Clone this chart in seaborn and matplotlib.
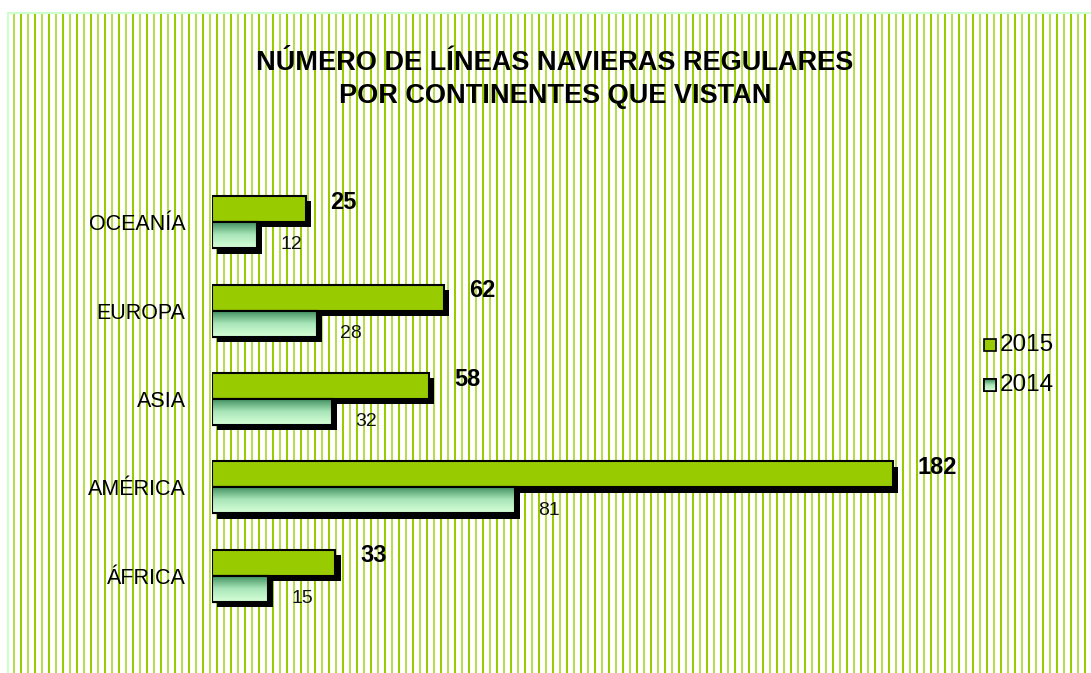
import numpy as np
import pandas as pd
import matplotlib
matplotlib.use('Agg')
import matplotlib.pyplot as plt
import matplotlib.patheffects as pe
from matplotlib.patches import Rectangle
import seaborn as sns

# data
continentes = ['OCEANÍA', 'EUROPA', 'ASIA', 'AMÉRICA', 'ÁFRICA']
lineas_2015 = [25, 62, 58, 182, 33]
lineas_2014 = [12, 28, 32, 81, 15]
anios = ['2015', '2014']

dat = pd.DataFrame({'continente': continentes * 2,
                    'lineas': lineas_2015 + lineas_2014,
                    'anio': ['2015'] * 5 + ['2014'] * 5})

sns.set_theme(style='white')
plt.rcParams['font.family'] = ['Liberation Sans', 'DejaVu Sans']
plt.rcParams['text.color'] = 'black'
plt.rcParams['ytick.color'] = 'black'

W, H = 1091, 673
fig = plt.figure(figsize=(W / 100, H / 100), dpi=100)

# striped background, pixel coords
bg = fig.add_axes([0, 0, 1, 1], zorder=-10)
bg.set_xlim(0, W); bg.set_ylim(H, 0); bg.axis('off')
xs = np.arange(14, W, 7)
for k, xx in enumerate(xs):
    col = '#99CC00' if k % 2 else '#B8DC50'
    bg.vlines(xx, 12, H, color=col, lw=1.45)
bg.hlines(12.5, 7, W, color='#CCFFCC', lw=1.5)
bg.vlines(7.5, 12, H, color='#CCFFCC', lw=1.5)

# plot area: bars start at x=212 px, ~3.74 px per unit
x0, x1 = 212, 1000
y_top, y_bot = 178, 620
ax = fig.add_axes([x0 / W, 1 - y_bot / H, (x1 - x0) / W, (y_bot - y_top) / H])
ax.patch.set_alpha(0)

shadow = [pe.SimplePatchShadow(offset=(3.8, -3.8), shadow_rgbFace='black', alpha=1), pe.Normal()]
sns.barplot(data=dat, y='continente', x='lineas', hue='anio', order=continentes,
            hue_order=anios, palette={'2015': '#99CC00', '2014': '#8FD0A0'}, saturation=1,
            width=0.59, edgecolor='black', linewidth=1.5, ax=ax, legend=False)

ax.set_xlim(0, (x1 - x0) / 3.74)
ax.set_ylim(4.5, -0.5)
ylim = ax.get_ylim(); xlim = ax.get_xlim()

grad = np.linspace(0, 1, 64).reshape(-1, 1)
cmap_g = matplotlib.colors.LinearSegmentedColormap.from_list('g', ['#3A8A5A', '#A8E6B8', '#D8FFD8'])
n = len(continentes)
for i, p in enumerate(ax.patches):
    p.set_path_effects(shadow)
    if i >= n:
        bx, by, bw, bh = p.get_x(), p.get_y(), p.get_width(), p.get_height()
        im = ax.imshow(grad, cmap=cmap_g, aspect='auto', origin='upper',
                       extent=[bx, bx + bw, by + bh, by], zorder=p.get_zorder() + 0.1)
        im.set_clip_path(p)
        ax.add_patch(Rectangle((bx, by), bw, bh, fill=False, edgecolor='black',
                               lw=1.5, zorder=p.get_zorder() + 0.2))
ax.set_xlim(xlim); ax.set_ylim(ylim)

# value labels
for i in range(n):
    p15 = ax.patches[i]; p14 = ax.patches[n + i]
    ax.annotate(str(lineas_2015[i]), (p15.get_width(), p15.get_y() + p15.get_height() / 2),
                xytext=(18, 5), textcoords='offset points', ha='left', va='center',
                fontsize=17, fontweight='bold', color='black')
    ax.annotate(str(lineas_2014[i]), (p14.get_width(), p14.get_y() + p14.get_height() / 2),
                xytext=(17, -7), textcoords='offset points', ha='left', va='center',
                fontsize=14, color='#111111')

ax.set_xlabel(''); ax.set_ylabel('')
ax.set_xticks([])
ax.tick_params(axis='y', length=0, pad=19, labelsize=15.5, labelcolor='black')
for s in ax.spines.values():
    s.set_visible(False)

fig.text(555 / W, 1 - 63 / H, 'NÚMERO DE LÍNEAS NAVIERAS REGULARES', ha='center', va='center',
         fontsize=19.5, fontweight='bold', color='black')
fig.text(555 / W, 1 - 96 / H, 'POR CONTINENTES QUE VISTAN', ha='center', va='center',
         fontsize=19.5, fontweight='bold', color='black')

# legend
for yy, lab, fc in [(345, '2015', '#99CC00'), (385, '2014', None)]:
    bg.add_patch(Rectangle((984, yy - 6), 12, 12, facecolor=fc if fc else '#B8EBC4',
                           edgecolor='black', lw=1.2, zorder=5))
    if fc is None:
        im = bg.imshow(grad, cmap=cmap_g, aspect='auto', extent=[984, 996, yy + 6, yy - 6], zorder=5.5)
        bg.add_patch(Rectangle((984, yy - 6), 12, 12, fill=False, edgecolor='black', lw=1.2, zorder=6))
    bg.text(1000, yy, lab, ha='left', va='center', fontsize=17.5, color='black')
bg.set_xlim(0, W); bg.set_ylim(H, 0)

fig.savefig('out.png', dpi=100)
